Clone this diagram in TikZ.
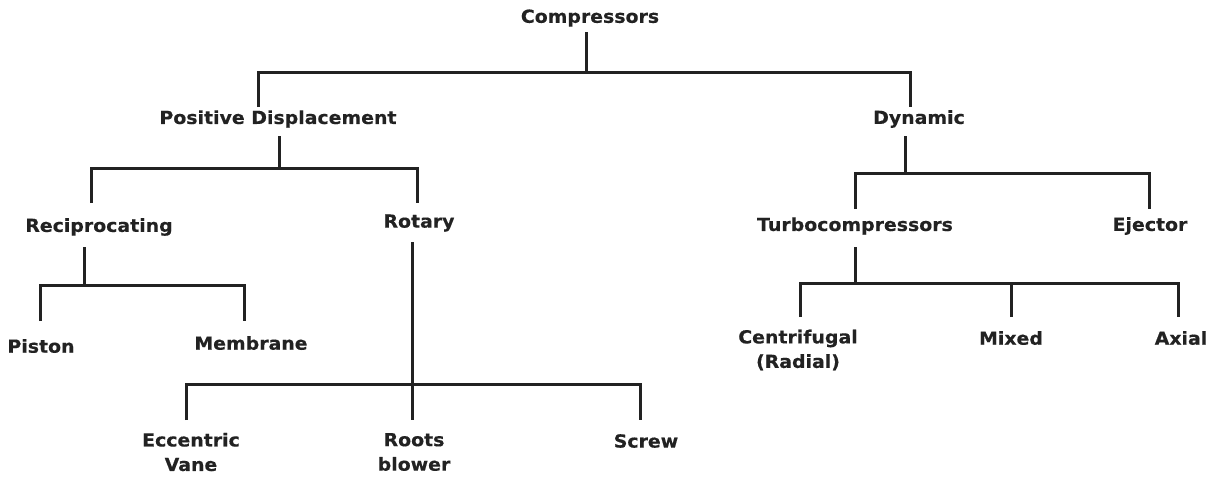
\documentclass[tikz,border=0pt]{standalone}
\usepackage{fontspec}
\setmainfont{DejaVu Sans}[FakeStretch=1.05, BoldFeatures={FakeBold=0.4}]
\definecolor{ink}{HTML}{222222}
\begin{document}
\begin{tikzpicture}[x=1pt,y=-1pt,
  lbl/.style={font=\bfseries\fontsize{18}{24.5}\selectfont, text=ink, inner sep=0pt, align=center},
  conn/.style={draw=ink, line width=3pt}]
\useasboundingbox (0,0) rectangle (1216,477);

% labels
\node[lbl] (comp) at (590,18) {Compressors};
\node[lbl] (pd)   at (278,119) {Positive Displacement};
\node[lbl] (dyn)  at (919,119) {Dynamic};
\node[lbl] (rec)  at (99,227) {Reciprocating};
\node[lbl] (rot)  at (419,223) {Rotary};
\node[lbl] (pis)  at (41,346) {Piston};
\node[lbl] (mem)  at (251,343) {Membrane};
\node[lbl] (ecc)  at (191,452) {Eccentric\\Vane};
\node[lbl] (roo)  at (414,452) {Roots\\blower};
\node[lbl] (scr)  at (646,441) {Screw};
\node[lbl] (tur)  at (855,226) {Turbocompressors};
\node[lbl] (eje)  at (1150,226) {Ejector};
\node[lbl] (cen)  at (798,350) {Centrifugal\\(Radial)};
\node[lbl] (mix)  at (1011,338) {Mixed};
\node[lbl] (axi)  at (1181,338) {Axial};

% line ends next to each label
\coordinate (compB) at (586,32);
\coordinate (pdT)   at (258,107);
\coordinate (pdB)   at (279,136);
\coordinate (dynT)  at (910,107);
\coordinate (dynB)  at (905,136);
\coordinate (recT)  at (91,203);
\coordinate (recB)  at (84,247);
\coordinate (rotT)  at (417,203);
\coordinate (rotB)  at (412,242);
\coordinate (pisT)  at (40,321);
\coordinate (memT)  at (244,321);
\coordinate (eccT)  at (186,420);
\coordinate (rooT)  at (412,420);
\coordinate (scrT)  at (640,420);
\coordinate (turT)  at (855,209);
\coordinate (turB)  at (855,247);
\coordinate (ejeT)  at (1149,209);
\coordinate (cenT)  at (800,317);
\coordinate (mixT)  at (1011,317);
\coordinate (axiT)  at (1178,317);

% bus bars
\coordinate (busA) at (586,72);
\coordinate (busB) at (279,168);
\coordinate (busC) at (905,173);
\coordinate (busD) at (84,285);
\coordinate (busE) at (412,384);
\coordinate (busF) at (855,283);

% connectors
\draw[conn] (compB) -- (busA);
\draw[conn] (pdT) |- (busA) -| (dynT);
\draw[conn] (pdB) -- (busB);
\draw[conn] (recT) |- (busB) -| (rotT);
\draw[conn] (recB) -- (busD);
\draw[conn] (pisT) |- (busD) -| (memT);
\draw[conn] (rotB) -- (rooT);
\draw[conn] (eccT) |- (busE) -| (scrT);
\draw[conn] (dynB) -- (busC);
\draw[conn] (turT) |- (busC) -| (ejeT);
\draw[conn] (turB) -- (busF);
\draw[conn] (cenT) |- (busF) -| (axiT);
\draw[conn] (mixT) -- (mixT |- busF);
\end{tikzpicture}
\end{document}
